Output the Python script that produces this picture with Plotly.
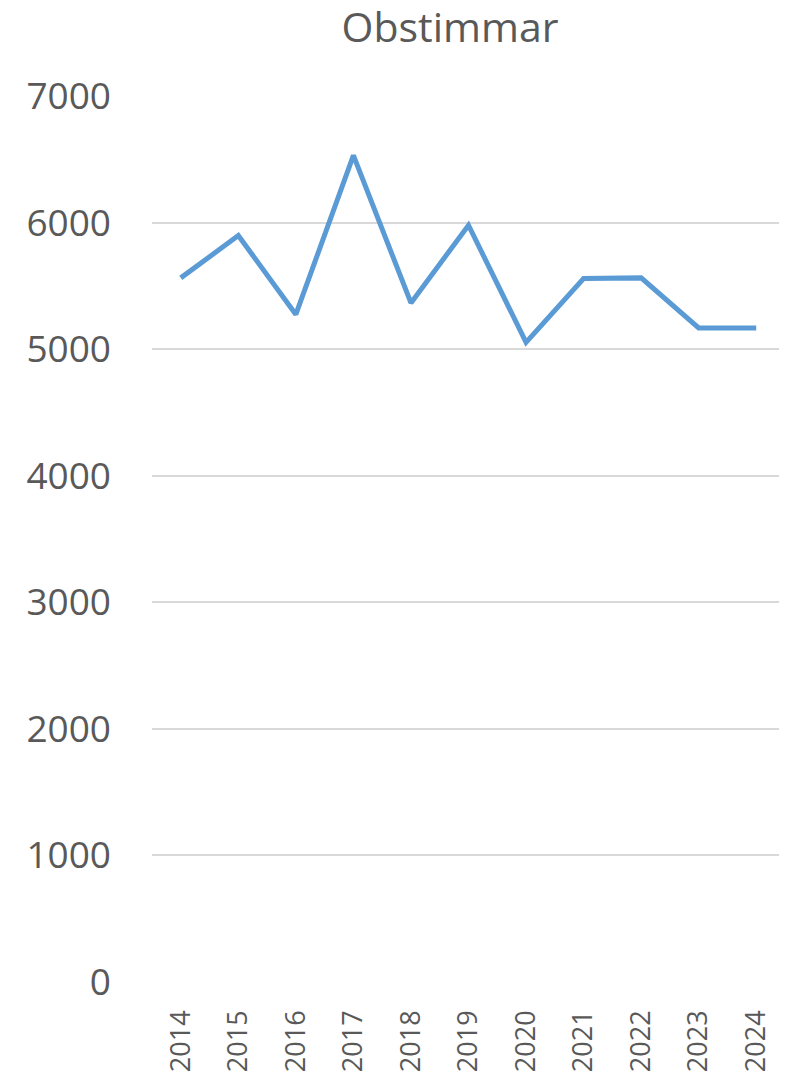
import plotly.graph_objects as go

years = ["2014", "2015", "2016", "2017", "2018", "2019", "2020", "2021", "2022", "2023", "2024"]
values = [5563, 5897, 5274, 6531, 5365, 5979, 5053, 5558, 5563, 5168, 5168]
y_ticks = [0, 1000, 2000, 3000, 4000, 5000, 6000, 7000]

font = "Open Sans"
grey = "#595959"

# page body has an 8px default margin, so figure is sized to fit the window
W, H = 779, 1074

fig = go.Figure()
fig.add_trace(go.Scatter(
    x=years, y=values, mode="lines",
    line=dict(color="#5B9BD5", width=5),
    hoverinfo="x+y",
))

fig.update_layout(
    width=W, height=H,
    margin=dict(l=144, r=2, t=88, b=100, autoexpand=False),
    paper_bgcolor="white", plot_bgcolor="white",
    showlegend=False,
    title=dict(text="Obstimmar", x=442/W, xref="container", xanchor="center",
               y=1 - 20/H, yref="container", yanchor="middle",
               font=dict(family=font, size=41, color=grey), automargin=False),
    font=dict(family=font, color=grey),
)

fig.update_xaxes(
    type="category", range=[-0.5, 10.5], automargin=False,
    showgrid=False, showline=False, zeroline=False,
    tickangle=-90, tickfont=dict(family=font, size=27, color=grey),
    ticks="", ticklabelstandoff=22,
)
fig.update_yaxes(
    range=[0, 7000], tickvals=y_ticks, ticktext=[str(v) for v in y_ticks],
    automargin=False,
    showgrid=True, gridcolor="#D9D9D9", gridwidth=1.5,
    zeroline=False, showline=False,
    tickfont=dict(family=font, size=37, color=grey),
    ticks="", ticklabelstandoff=40,
)

fig.write_html("out.html")
